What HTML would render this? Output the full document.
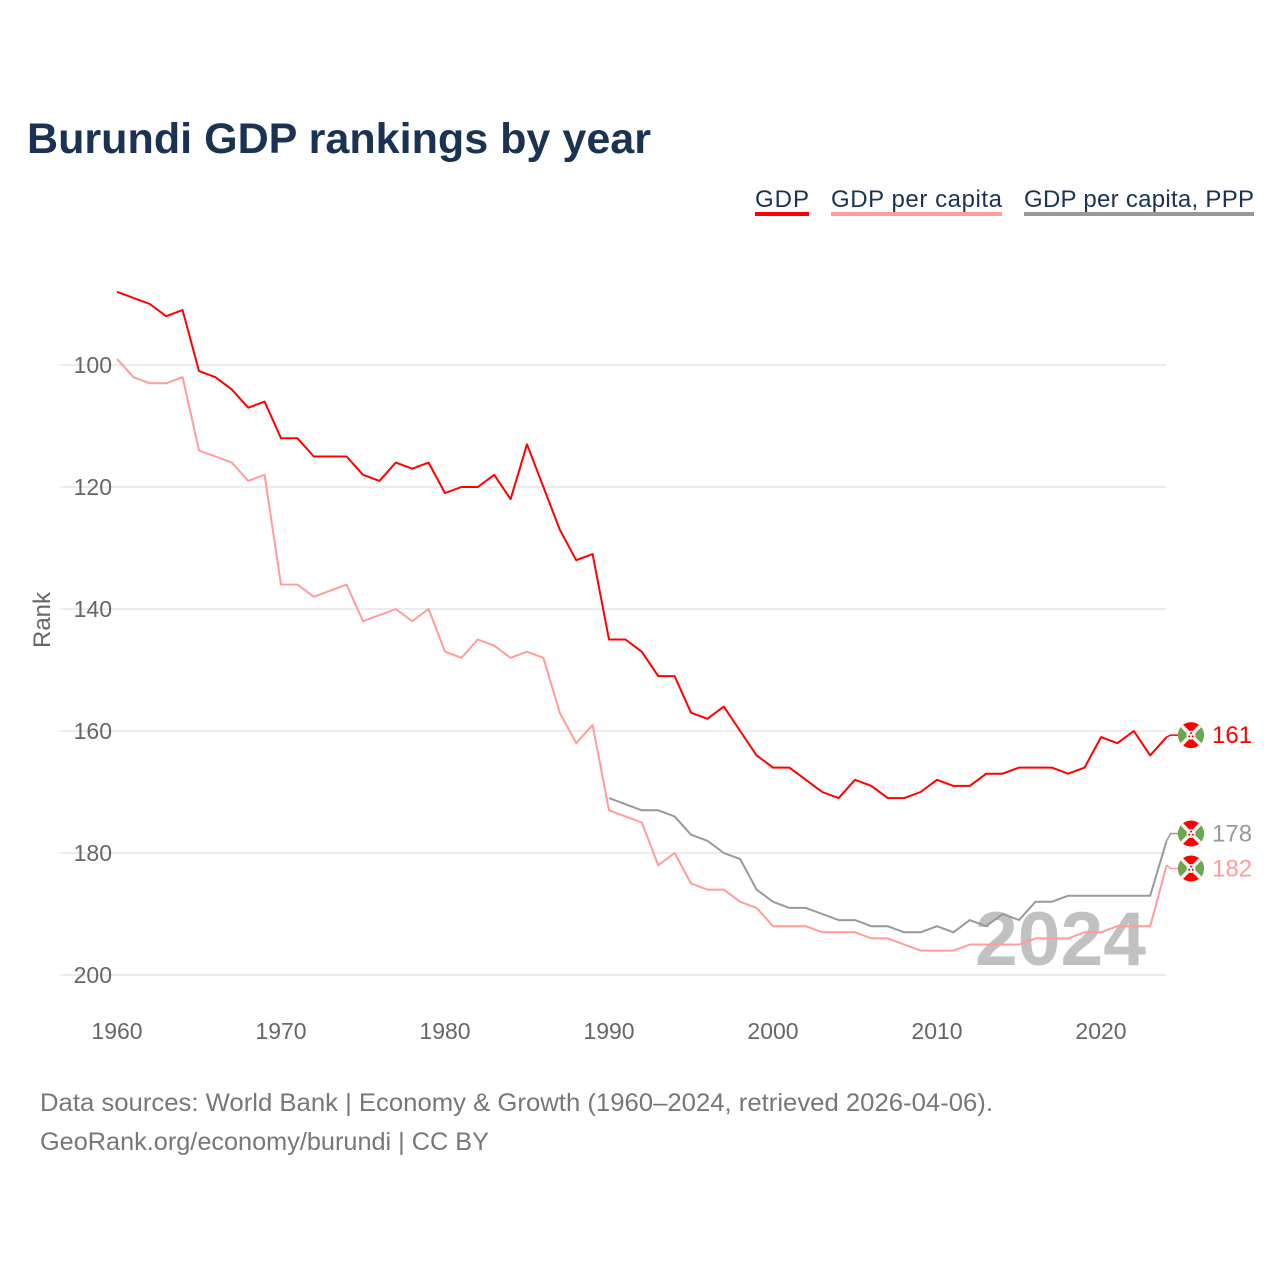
<!DOCTYPE html>
<html><head><meta charset="utf-8"><style>
body{margin:0;background:#fff;font-family:"Liberation Sans",sans-serif;}
svg text{font-family:"Liberation Sans",sans-serif;}
</style></head><body>
<svg id="chart" width="1280" height="1280" viewBox="0 0 1280 1280" xmlns="http://www.w3.org/2000/svg">
<text x="27" y="153" font-size="43" font-weight="bold" fill="#1b3353" textLength="624" lengthAdjust="spacingAndGlyphs">Burundi GDP rankings by year</text>
<g>
<g><text x="755" y="207" font-size="24" fill="#1b3353" textLength="54">GDP</text><rect x="755" y="212" width="54" height="4" fill="#ff0000"/></g>
<g><text x="831" y="207" font-size="24" fill="#1b3353" textLength="171">GDP per capita</text><rect x="831" y="212" width="171" height="4" fill="#ff9c9c"/></g>
<g><text x="1024" y="207" font-size="24" fill="#1b3353" textLength="230">GDP per capita, PPP</text><rect x="1024" y="212" width="230" height="4" fill="#999"/></g>
</g>
<g id="grid"></g>
<g id="axes"></g>
<text x="1146" y="965" font-size="76" font-weight="bold" fill="#bbb" text-anchor="end" textLength="171" lengthAdjust="spacingAndGlyphs" opacity="0.9">2024</text>
<g id="series"></g>
<g id="labels"></g>
<text transform="translate(50,620) rotate(-90)" font-size="24" fill="#666" text-anchor="middle">Rank</text>
<text x="40" y="1111" font-size="25" fill="#777" textLength="953" lengthAdjust="spacingAndGlyphs">Data sources: World Bank | Economy &amp; Growth (1960–2024, retrieved 2026-04-06).</text>
<text x="40" y="1150" font-size="25" fill="#777" textLength="449" lengthAdjust="spacingAndGlyphs">GeoRank.org/economy/burundi | CC BY</text>
</svg>
<script>
const years=[];for(let y=1960;y<=2024;y++)years.push(y);
const gdp=[88,89,90,92,91,101,102,104,107,106,112,112,115,115,115,118,119,116,117,116,121,120,120,118,122,113,120,127,132,131,145,145,147,151,151,157,158,156,160,164,166,166,168,170,171,168,169,171,171,170,168,169,169,167,167,166,166,166,167,166,161,162,160,164,161];
const gdpPc=[99,102,103,103,102,114,115,116,119,118,136,136,138,137,136,142,141,140,142,140,147,148,145,146,148,147,148,157,162,159,173,174,175,182,180,185,186,186,188,189,192,192,192,193,193,193,194,194,195,196,196,196,195,195,195,195,194,194,194,193,193,192,192,192,182];
const pppYears=[];for(let y=1990;y<=2024;y++)pppYears.push(y);
const gdpPpp=[171,172,173,173,174,177,178,180,181,186,188,189,189,190,191,191,192,192,193,193,192,193,191,192,190,191,188,188,187,187,187,187,187,187,178];
const yTicks=[100,120,140,160,180,200];
const xTicks=[1960,1970,1980,1990,2000,2010,2020];
const NS="http://www.w3.org/2000/svg";
const X=y=>117+(y-1960)*16.4;
const Y=r=>365+(r-100)*6.1;
function mk(t,a,p){const e=document.createElementNS(NS,t);for(const k in a)e.setAttribute(k,a[k]);p.appendChild(e);return e;}
const grid=document.getElementById('grid'),axes=document.getElementById('axes');
yTicks.forEach(t=>{
 const l=mk('line',{x1:60,x2:1166,y1:Y(t),y2:Y(t),stroke:'#e6e6e6','stroke-width':1.5},grid);
 
 
 const tx=mk('text',{x:112,y:Y(t)+8,'font-size':23,fill:'#666','text-anchor':'end'},axes);
 tx.textContent=t;
 
 
});
xTicks.forEach(t=>{
 const tx=mk('text',{x:X(t),y:1039,'font-size':23,fill:'#666','text-anchor':'middle'},axes);
 tx.textContent=t;
 
 
});
const ser=document.getElementById('series');
function line(xs,vs,c,name){
 const d=vs.map((v,i)=>(i?'L':'M')+X(xs[i]).toFixed(1)+','+Y(v).toFixed(1)).join('');
 const p=mk('path',{d:d,fill:'none',stroke:c,'stroke-width':2,'stroke-linejoin':'round'},ser);
 
 
}
line(years,gdpPc,'#ff9c9c','line-gdp-per-capita');
line(pppYears,gdpPpp,'#999','line-gdp-per-capita-ppp');
line(years,gdp,'#ff0000','line-gdp');
const ends=[{v:gdp[gdp.length-1],c:'#ff0000',n:'gdp'},{v:gdpPpp[gdpPpp.length-1],c:'#999',n:'ppp'},{v:gdpPc[gdpPc.length-1],c:'#ff9c9c',n:'pc'}];
ends.forEach(e=>e.ly=Y(e.v)-2);
ends.sort((a,b)=>a.ly-b.ly);
for(let k=0;k<3;k++){for(let i=1;i<ends.length;i++){const gap=ends[i].ly-ends[i-1].ly;if(gap<35){const m=(ends[i].ly+ends[i-1].ly)/2;ends[i-1].ly=m-17.5;ends[i].ly=m+17.5;}}}
const lab=document.getElementById('labels');
const lx=X(2024);
ends.forEach(e=>{
 const g=mk('g',{},lab);
 
 
 const cy=e.ly;
 mk('path',{d:`M${lx},${Y(e.v)}L${lx+4},${cy}L${lx+12},${cy}`,fill:'none',stroke:e.c,'stroke-width':1.5},g);
 const cx=1191,r=13;
 const f=mk('g',{},g);
 
 
 const clip='cl'+e.n;
 const cp=mk('clipPath',{id:clip},f);mk('circle',{cx:cx,cy:cy,r:r},cp);
 const inner=mk('g',{'clip-path':`url(#${clip})`},f);
 mk('rect',{x:cx-r,y:cy-r,width:2*r,height:2*r,fill:'#ff0000'},inner);
 mk('path',{d:`M${cx-r},${cy-r}L${cx},${cy}L${cx-r},${cy+r}Z M${cx+r},${cy-r}L${cx},${cy}L${cx+r},${cy+r}Z`,fill:'#6aa84f'},inner);
 mk('path',{d:`M${cx-r},${cy-r}L${cx+r},${cy+r}M${cx+r},${cy-r}L${cx-r},${cy+r}`,stroke:'#f4f4f4','stroke-width':3.5},inner);
 mk('circle',{cx:cx,cy:cy,r:4.5,fill:'#f4f4f4'},inner);
 [[0,-2],[-1.8,1.3],[1.8,1.3]].forEach(s=>mk('circle',{cx:cx+s[0],cy:cy+s[1],r:1,fill:'#ff0000'},inner));
 const t=mk('text',{x:1212,y:cy+8,'font-size':24,fill:e.c},g);
 t.textContent=e.v;
 
 
});
</script>
</body></html>
